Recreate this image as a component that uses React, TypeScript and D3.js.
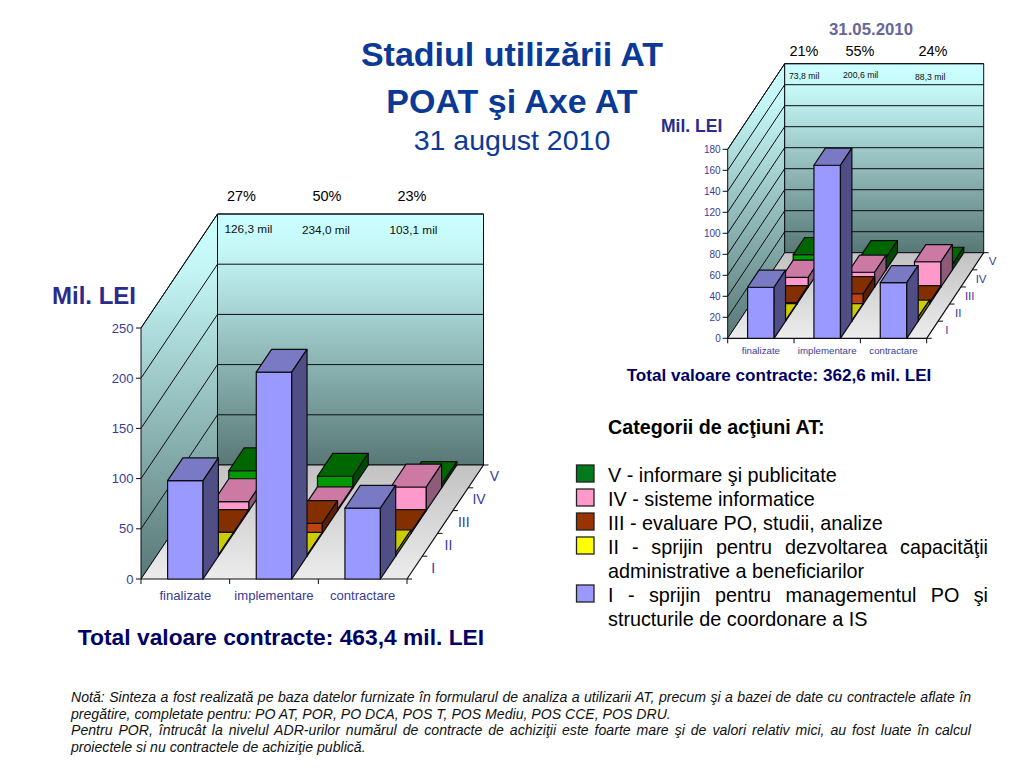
import React from 'react';
import * as d3 from 'd3';

const categories = ['finalizate', 'implementare', 'contractare'];
const seriesLabels = ['I', 'II', 'III', 'IV', 'V'];

// values per category, one array per action type
const augustI = [98, 206, 70.5];
const augustII = [1, 1, 3.4];
const augustIII = [1, 10, 1];
const augustIV = [9, 1, 23.5];
const augustV = [17, 11.5, 3.3];

const mayI = [48.6, 164.8, 53];
const mayII = [0.5, 0.5, 3.8];
const mayIII = [1.3, 9.8, 1.3];
const mayIV = [9.2, 14, 24];
const mayV = [14.5, 11.5, 5.2];

const frontColors = ['#9999ff', '#ffff00', '#bb4411', '#ff99cc', '#009900'];
const topColors = ['#7a7ac4', '#cccc00', '#842f00', '#cc7aa3', '#006600'];
const sideColors = ['#4f4f85', '#808000', '#5c2000', '#8f5b78', '#004a00'];

const legendColors = ['#007a1a', '#ff99cc', '#993300', '#ffff00', '#9999ff'];

const pt = (x: number, y: number): [number, number] => [x, y];
const poly = (pts: [number, number][]) => d3.line()(pts) + 'Z';

type ChartProps = {
  id: string;
  series: number[][];
  maxValue: number;
  tickCount: number;
  x0: number;
  x1: number;
  floorY: number;
  wallHeight: number;
  depthX: number;
  depthY: number;
  fontSize: number;
  catFontSize: number;
  depthFontSize: number;
  catY: number;
  depthLabelDx: number;
  tickLabelGap: number;
};

const Chart3D = ({
  id, series, maxValue, tickCount, x0, x1, floorY, wallHeight, depthX, depthY,
  fontSize, catFontSize, depthFontSize, catY, depthLabelDx, tickLabelGap,
}: ChartProps) => {
  const xScale = d3.scaleBand<string>().domain(categories).range([x0, x1]).paddingInner(0.6).paddingOuter(0.3);
  const yScale = d3.scaleLinear().domain([0, maxValue]).range([floorY, floorY - wallHeight]);
  const zx = d3.scaleBand<string>().domain(seriesLabels).range([0, depthX]);
  const zy = d3.scaleBand<string>().domain(seriesLabels).range([0, depthY]);

  const step = xScale.step();
  const bw = xScale.bandwidth();
  const sx = zx.bandwidth();
  const sy = zy.bandwidth();
  const backY = floorY - depthY;
  const topY = yScale(maxValue);
  const ink = '#0c0c14';
  const blue = '#3a3a99';

  const drawOrder = seriesLabels.map((_, i) => i).reverse();
  const catEdges = [...categories.map((c) => (xScale(c) as number) - step * 0.3), x1];

  return (
    <g>
      <defs>
        <linearGradient id={`${id}-wall`} x1="0" y1="0" x2="0" y2="1">
          <stop offset="0" stopColor="#ccffff" />
          <stop offset="0.15" stopColor="#c4f6f6" />
          <stop offset="1" stopColor="#587876" />
        </linearGradient>
        <linearGradient id={`${id}-floor`} x1="0" y1="0" x2="0" y2="1">
          <stop offset="0" stopColor="#c2c2c2" />
          <stop offset="1" stopColor="#ececec" />
        </linearGradient>
      </defs>

      {/* walls and floor */}
      <path
        d={poly([pt(x0, floorY), pt(x0 + depthX, backY), pt(x0 + depthX, topY - depthY), pt(x0, topY)])}
        fill={`url(#${id}-wall)`} stroke={ink}
      />
      <path
        d={poly([pt(x0 + depthX, backY), pt(x1 + depthX, backY), pt(x1 + depthX, topY - depthY), pt(x0 + depthX, topY - depthY)])}
        fill={`url(#${id}-wall)`} stroke={ink}
      />
      <path
        d={poly([pt(x0, floorY), pt(x1, floorY), pt(x1 + depthX, backY), pt(x0 + depthX, backY)])}
        fill={`url(#${id}-floor)`} stroke="none"
      />

      {/* gridlines */}
      {yScale.ticks(tickCount).map((t) => (
        <path
          key={t}
          d={d3.line()([pt(x0, yScale(t)), pt(x0 + depthX, yScale(t) - depthY), pt(x1 + depthX, yScale(t) - depthY)]) as string}
          fill="none" stroke={ink} strokeWidth={1}
        />
      ))}

      {/* floor edges */}
      <path d={d3.line()([pt(x0, floorY), pt(x1, floorY), pt(x1 + depthX, backY)]) as string} fill="none" stroke={ink} strokeWidth={1.2} />

      {/* bars, back row first */}
      {drawOrder.map((si) => {
        const s = seriesLabels[si];
        return categories.map((c, ci) => {
          const left = (xScale(c) as number) + (zx(s) as number);
          const right = left + bw;
          const base = floorY - (zy(s) as number);
          const top = yScale(series[si][ci]) - (zy(s) as number);
          return (
            <g key={`${s}-${c}`} stroke={ink} strokeWidth={1.2} strokeLinejoin="round">
              <path d={poly([pt(left, base), pt(right, base), pt(right, top), pt(left, top)])} fill={frontColors[si]} />
              <path d={poly([pt(left, top), pt(right, top), pt(right + sx, top - sy), pt(left + sx, top - sy)])} fill={topColors[si]} />
              <path d={poly([pt(right, base), pt(right + sx, base - sy), pt(right + sx, top - sy), pt(right, top)])} fill={sideColors[si]} />
            </g>
          );
        });
      })}

      {/* value axis */}
      {yScale.ticks(tickCount).map((t) => (
        <g key={t}>
          <line x1={x0 - 5} x2={x0} y1={yScale(t)} y2={yScale(t)} stroke={ink} />
          <text x={x0 - tickLabelGap} y={yScale(t)} dy="0.36em" textAnchor="end" fontSize={fontSize} fill={blue}>{t}</text>
        </g>
      ))}

      {/* category axis */}
      {catEdges.map((e) => (
        <line key={e} x1={e} x2={e} y1={floorY} y2={floorY + 5} stroke={ink} />
      ))}
      {categories.map((c) => (
        <text key={c} x={(xScale(c) as number) + bw / 2} y={catY} textAnchor="middle" fontSize={catFontSize} fill={blue}>{c}</text>
      ))}

      {/* depth axis */}
      {seriesLabels.map((s) => {
        const ex = x1 + (zx(s) as number);
        const ey = floorY - (zy(s) as number);
        return (
          <g key={s}>
            <line x1={ex} x2={ex + 5} y1={ey} y2={ey} stroke={ink} />
            <text x={ex + sx / 2 + depthLabelDx} y={ey - sy / 2} dy="0.36em" textAnchor="middle" fontSize={depthFontSize} fill={blue}>{s}</text>
          </g>
        );
      })}
      <line x1={x1 + depthX} x2={x1 + depthX + 5} y1={backY} y2={backY} stroke={ink} />
    </g>
  );
};

// stretches the spaces of a line so it fills the column, as the slide text does
const Justified = ({ x, y, width, children, ...rest }: any) => (
  <text
    x={x}
    y={y}
    ref={(el) => {
      if (!el) return;
      el.removeAttribute('word-spacing');
      const spaces = (el.textContent || '').split(' ').length - 1;
      el.setAttribute('word-spacing', String((width - el.getComputedTextLength()) / spaces));
    }}
    {...rest}
  >
    {children}
  </text>
);

const App = () => {
  const navy = '#0b3a96';
  const dark = '#000066';
  const mil = '#2b2b8c';
  return (
    <svg
      width={1024}
      height={768}
      style={{ position: 'absolute', left: 0, top: 0, display: 'block', background: '#fff' }}
      fontFamily="'Liberation Sans', Arial, sans-serif"
    >
      {/* title */}
      <text x={512} y={66} textAnchor="middle" fontSize={34} fontWeight="bold" fill={navy}>Stadiul utilizării AT</text>
      <text x={512} y={112.5} textAnchor="middle" fontSize={34} fontWeight="bold" fill={navy}>POAT şi Axe AT</text>
      <text x={512} y={150} textAnchor="middle" fontSize={28.5} fill={navy}>31 august 2010</text>

      {/* left chart */}
      <Chart3D
        id="aug"
        series={[augustI, augustII, augustIII, augustIV, augustV]}
        maxValue={250}
        tickCount={5}
        x0={141}
        x1={407}
        floorY={579}
        wallHeight={251}
        depthX={76.5}
        depthY={114}
        fontSize={13}
        catFontSize={13.1}
        depthFontSize={14}
        catY={600}
        depthLabelDx={18.5}
        tickLabelGap={7.5}
      />
      <text x={52} y={304} fontSize={24} fontWeight="bold" fill={mil}>Mil. LEI</text>
      <g fontSize={14.5} textAnchor="middle" fill="#000">
        <text x={241.5} y={201}>27%</text>
        <text x={327} y={201}>50%</text>
        <text x={412} y={201}>23%</text>
      </g>
      <g fontSize={11.8} fill="#111">
        <text x={224.5} y={233}>126,3 mil</text>
        <text x={302} y={234}>234,0 mil</text>
        <text x={389.5} y={234}>103,1 mil</text>
      </g>
      <text x={281} y={645} textAnchor="middle" fontSize={22.8} fontWeight="bold" fill={dark}>Total valoare contracte: 463,4 mil. LEI</text>

      {/* right chart */}
      <Chart3D
        id="may"
        series={[mayI, mayII, mayIII, mayIV, mayV]}
        maxValue={180}
        tickCount={9}
        x0={727.7}
        x1={926.7}
        floorY={338.3}
        wallHeight={189}
        depthX={57}
        depthY={85.6}
        fontSize={10}
        catFontSize={9.7}
        depthFontSize={11.5}
        catY={354}
        depthLabelDx={14.5}
        tickLabelGap={7}
      />
      <text x={871} y={35} textAnchor="middle" fontSize={16.8} fontWeight="bold" fill="#666699">31.05.2010</text>
      <g fontSize={14.5} textAnchor="middle" fill="#000">
        <text x={804} y={56}>21%</text>
        <text x={860} y={56}>55%</text>
        <text x={933} y={56}>24%</text>
      </g>
      <g fontSize={8.7} fill="#111">
        <text x={789} y={79}>73,8 mil</text>
        <text x={843} y={78}>200,6 mil</text>
        <text x={915} y={80}>88,3 mil</text>
      </g>
      <text x={661} y={132} fontSize={17.5} fontWeight="bold" fill={mil}>Mil. LEI</text>
      <text x={779} y={381} textAnchor="middle" fontSize={17.1} fontWeight="bold" fill={dark}>Total valoare contracte: 362,6 mil. LEI</text>

      {/* legend */}
      <text x={608} y={434} fontSize={19.7} fontWeight="bold" fill="#000">Categorii de acţiuni AT:</text>
      {[465, 489, 513, 537, 585].map((y, i) => (
        <rect key={y} x={576.5} y={y} width={17.5} height={17} fill={legendColors[i]} stroke="#222" strokeWidth={1.3} />
      ))}
      <g fontSize={19.8} fill="#000">
        <text x={608} y={481.5}>V - informare şi publicitate</text>
        <text x={608} y={506}>IV - sisteme informatice</text>
        <text x={608} y={530}>III - evaluare PO, studii, analize</text>
        <Justified x={608} y={554} width={380}>II - sprijin pentru dezvoltarea capacităţii</Justified>
        <text x={608} y={578}>administrative a beneficiarilor</text>
        <Justified x={608} y={602} width={380}>I - sprijin pentru managementul PO şi</Justified>
        <text x={608} y={625.5}>structurile de coordonare a IS</text>
      </g>

      {/* note */}
      <g fontSize={14.1} fontStyle="italic" fill="#111">
        <Justified x={71} y={702} width={900}>Notă: Sinteza a fost realizată pe baza datelor furnizate în formularul de analiza a utilizarii AT, precum şi a bazei de date cu contractele aflate în</Justified>
        <text x={71} y={718.5}>pregătire, completate pentru: PO AT, POR, PO DCA, POS T, POS Mediu, POS CCE, POS DRU.</text>
        <Justified x={71} y={735} width={900}>Pentru POR, întrucât la nivelul ADR-urilor numărul de contracte de achiziţii este foarte mare şi de valori relativ mici, au fost luate în calcul</Justified>
        <text x={71} y={751.5}>proiectele si nu contractele de achiziţie publică.</text>
      </g>
    </svg>
  );
};

export default App;
